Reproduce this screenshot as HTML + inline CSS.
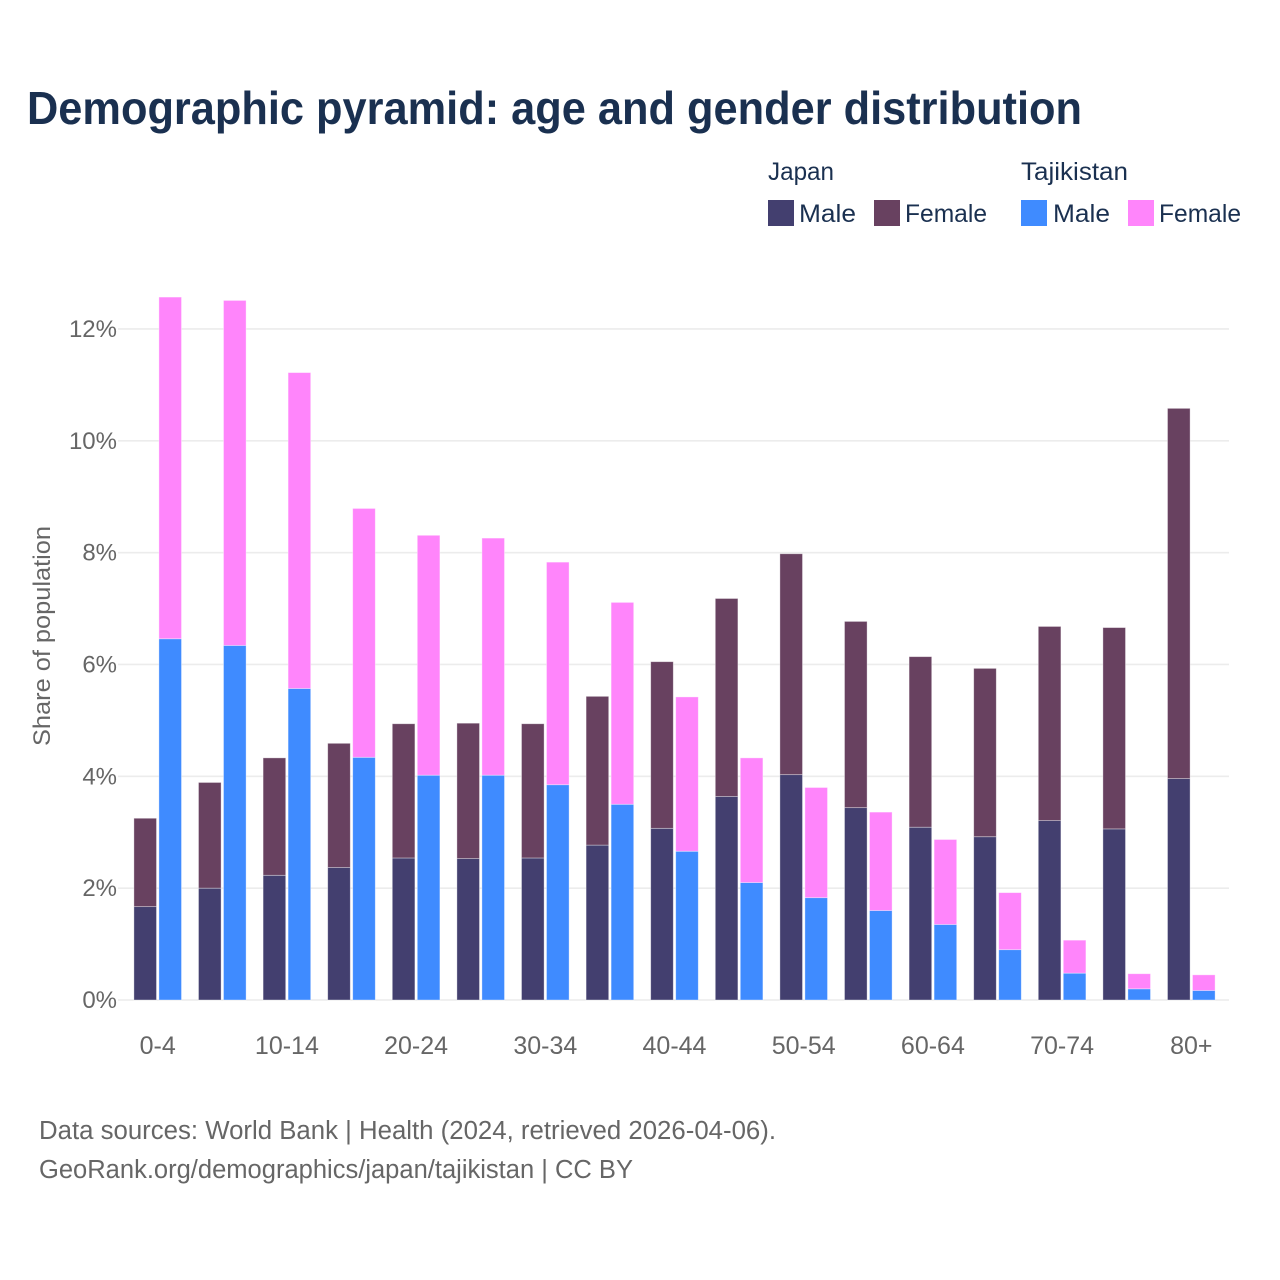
<!DOCTYPE html>
<html lang="en">
<head>
<meta charset="utf-8">
<title>Demographic pyramid: age and gender distribution</title>
<style>
html,body{margin:0;padding:0;background:#fff;}
svg{display:block;font-family:"Liberation Sans",sans-serif;}
</style>
</head>
<body>
<svg id="chart" xmlns="http://www.w3.org/2000/svg" width="1280" height="1280" viewBox="0 0 1280 1280">
  <rect width="1280" height="1280" fill="#fff"/>
  <text x="27" y="124" font-size="46" font-weight="700" fill="#1a3050" textLength="1055" lengthAdjust="spacingAndGlyphs">Demographic pyramid: age and gender distribution</text>

  <g id="legend" font-size="25" fill="#1a3050">
    <text x="768" y="180" textLength="66" lengthAdjust="spacingAndGlyphs">Japan</text>
    <text x="1021" y="180" textLength="107" lengthAdjust="spacingAndGlyphs">Tajikistan</text>
    <rect x="768" y="200" width="26" height="26" fill="#433f6f"/>
    <text x="799" y="222" textLength="57" lengthAdjust="spacingAndGlyphs">Male</text>
    <rect x="874" y="200" width="26" height="26" fill="#684160"/>
    <text x="905" y="222" textLength="82" lengthAdjust="spacingAndGlyphs">Female</text>
    <rect x="1021" y="200" width="26" height="26" fill="#3f8bff"/>
    <text x="1053" y="222" textLength="57" lengthAdjust="spacingAndGlyphs">Male</text>
    <rect x="1128" y="200" width="26" height="26" fill="#ff85fb"/>
    <text x="1159" y="222" textLength="82" lengthAdjust="spacingAndGlyphs">Female</text>
  </g>

  <text transform="translate(50 636) rotate(-90)" text-anchor="middle" font-size="24" fill="#666" textLength="220" lengthAdjust="spacingAndGlyphs">Share of population</text>

  <g id="grid"></g>
  <g id="bars"></g>
  <g id="y-ticks"></g>
  <g id="x-ticks"></g>

  <text x="39" y="1139" font-size="25.5" fill="#666" textLength="737" lengthAdjust="spacingAndGlyphs">Data sources: World Bank | Health (2024, retrieved 2026-04-06).</text>
  <text x="39" y="1178" font-size="25.5" fill="#666" textLength="594" lengthAdjust="spacingAndGlyphs">GeoRank.org/demographics/japan/tajikistan | CC BY</text>
</svg>
<script>
const categories = ["0-4","5-9","10-14","15-19","20-24","25-29","30-34","35-39","40-44","45-49","50-54","55-59","60-64","65-69","70-74","75-79","80+"];
const xTickLabels = ["0-4","","10-14","","20-24","","30-34","","40-44","","50-54","","60-64","","70-74","","80+"];
const yTickValues = [0,2,4,6,8,10,12];
const japanMale = [1.67,2.00,2.23,2.37,2.54,2.53,2.54,2.77,3.07,3.64,4.03,3.44,3.09,2.92,3.21,3.06,3.96];
const japanFemale = [1.58,1.89,2.10,2.22,2.40,2.42,2.40,2.66,2.98,3.54,3.95,3.33,3.05,3.01,3.47,3.60,6.62];
const tajikistanMale = [6.46,6.34,5.57,4.34,4.02,4.02,3.85,3.50,2.66,2.10,1.83,1.60,1.35,0.90,0.48,0.20,0.17];
const tajikistanFemale = [6.11,6.17,5.65,4.45,4.29,4.24,3.98,3.61,2.76,2.23,1.97,1.76,1.52,1.02,0.59,0.27,0.28];

const NS = "http://www.w3.org/2000/svg";
const yZero = 1000, yPerUnit = 55.92;
const xFirst = 157.7, xStep = 64.6, barWidth = 22.6, barGap = 2.4;
const yScale = v => yZero - v * yPerUnit;
const xCenter = i => xFirst + i * xStep;

function make(tag, props, parent) {
  const el = document.createElementNS(NS, tag);
  for (const k in props) el.setAttribute(k, props[k]);
  parent.appendChild(el);
  return el;
}

const gridG = document.getElementById("grid");
const yG = document.getElementById("y-ticks");
yTickValues.forEach(v => {
  const line = make("line", {x1:118, x2:1229, y1:yScale(v), y2:yScale(v), stroke:"#ececec", "stroke-width":1.6}, gridG);
  
  
  const t = make("text", {x:117, y:yScale(v)+8, "text-anchor":"end", "font-size":24, fill:"#666"}, yG);
  t.textContent = v + "%";
  
  
});

const xG = document.getElementById("x-ticks");
xTickLabels.forEach((label, i) => {
  if (!label) return;
  const t = make("text", {x:xCenter(i), y:1054, "text-anchor":"middle", "font-size":25, fill:"#666"}, xG);
  t.textContent = label;
  
  
});

const barsG = document.getElementById("bars");
function drawBar(x, base, value, fill, name) {
  const top = yScale(base + value), bottom = yScale(base);
  const r = make("rect", {x:x, y:top, width:barWidth, height:bottom-top, fill:fill, stroke:"#fff", "stroke-opacity":0.45, "stroke-width":0.8}, barsG);
  
  
}
categories.forEach((c, i) => {
  const left = xCenter(i) - barGap/2 - barWidth;
  const right = xCenter(i) + barGap/2;
  drawBar(left, 0, japanMale[i], "#433f6f", "bar-japan-male");
  drawBar(left, japanMale[i], japanFemale[i], "#684160", "bar-japan-female");
  drawBar(right, 0, tajikistanMale[i], "#3f8bff", "bar-tajikistan-male");
  drawBar(right, tajikistanMale[i], tajikistanFemale[i], "#ff85fb", "bar-tajikistan-female");
});
</script>
</body>
</html>
